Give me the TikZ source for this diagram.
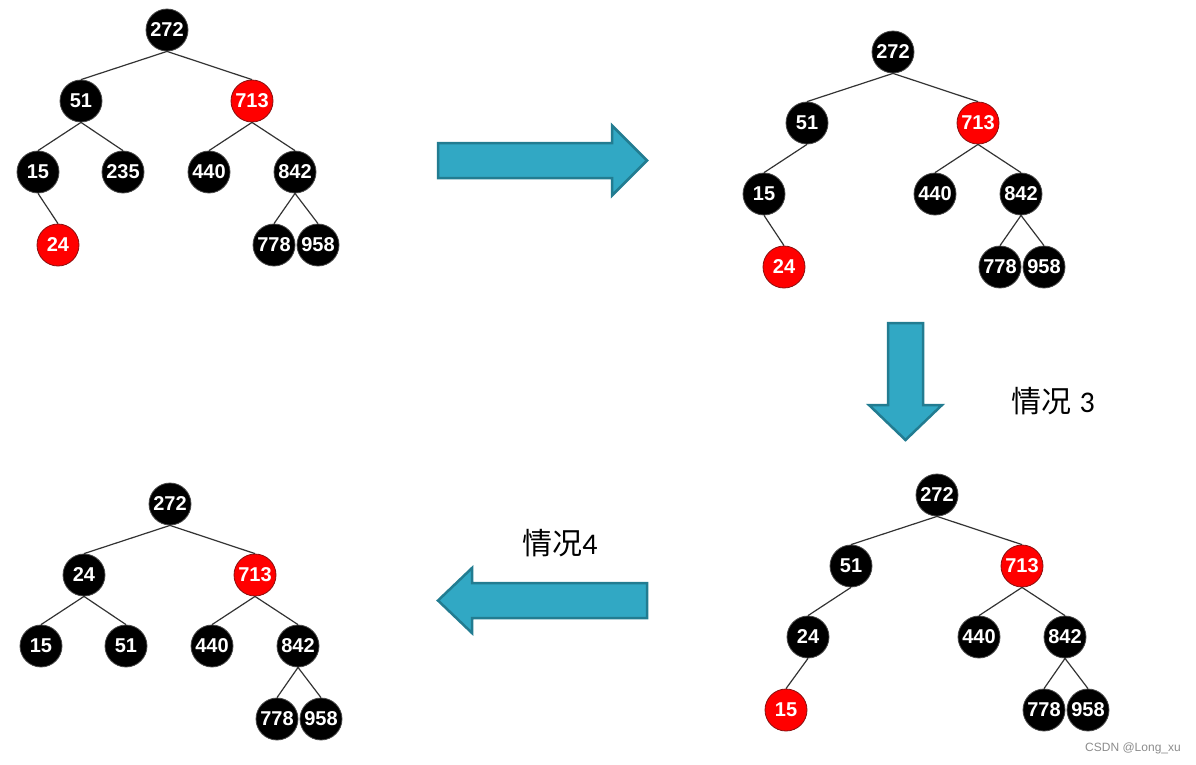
\documentclass[tikz,border=0pt]{standalone}
\usepackage{fontspec}
\setmainfont{Liberation Sans}
\newfontfamily\cjk{Noto Sans CJK SC}
\newfontfamily\calib{Carlito}
\usepackage{tikz}
\definecolor{rbred}{HTML}{FF0000}
\definecolor{reddark}{HTML}{8A1010}
\definecolor{nodeline}{HTML}{4A4A4A}
\definecolor{linkgray}{HTML}{333333}
\definecolor{arrowfill}{HTML}{31A8C4}
\definecolor{arrowline}{HTML}{227C91}
\definecolor{textmuted}{HTML}{8C8C8C}
\tikzset{
  rbnode/.style={circle, minimum size=42pt, inner sep=0pt, draw=nodeline,
                 line width=0.8pt, text=white,
                 font=\fontsize{20}{20}\selectfont\bfseries},
  blk/.style={rbnode, fill=black},
  rd/.style ={rbnode, fill=rbred, draw=reddark},
  link/.style={draw=linkgray, line width=1.2pt},
  bigarrow/.style={fill=arrowfill, draw=arrowline, line width=2.5pt,
                   line join=miter},
  case/.style={font=\fontsize{30}{30}\selectfont, text=black, inner sep=0pt},
  watermark/.style={font=\fontsize{12}{12}\selectfont, text=textmuted,
                    inner sep=0pt},
}
\begin{document}
\begin{tikzpicture}[x=1pt, y=-1pt]
  \useasboundingbox (0,0) rectangle (1196,764);

  % ── Tree 1: after insert of 24 ───────────────────────────────────────────
  \begin{scope}
    \node[blk] (a272) at (167,30)  {272};
    \node[blk] (a51)  at (81,101)  {51};
    \node[rd]  (a713) at (252,101) {713};
    \node[blk] (a15)  at (38,172)  {15};
    \node[blk] (a235) at (123,172) {235};
    \node[blk] (a440) at (209,172) {440};
    \node[blk] (a842) at (295,172) {842};
    \node[rd]  (a24)  at (58,245)  {24};
    \node[blk] (a778) at (274,245) {778};
    \node[blk] (a958) at (318,245) {958};
    \draw[link] (a272.south) -- (a51.north);
    \draw[link] (a272.south) -- (a713.north);
    \draw[link] (a51.south)  -- (a15.north);
    \draw[link] (a51.south)  -- (a235.north);
    \draw[link] (a713.south) -- (a440.north);
    \draw[link] (a713.south) -- (a842.north);
    \draw[link] (a15.south)  -- (a24.north);
    \draw[link] (a842.south) -- (a778.north);
    \draw[link] (a842.south) -- (a958.north);
  \end{scope}

  % ── Tree 2: 235 removed ──────────────────────────────────────────────────
  \begin{scope}[shift={(726,22)}]
    \node[blk] (b272) at (167,30)  {272};
    \node[blk] (b51)  at (81,101)  {51};
    \node[rd]  (b713) at (252,101) {713};
    \node[blk] (b15)  at (38,172)  {15};
    \node[blk] (b440) at (209,172) {440};
    \node[blk] (b842) at (295,172) {842};
    \node[rd]  (b24)  at (58,245)  {24};
    \node[blk] (b778) at (274,245) {778};
    \node[blk] (b958) at (318,245) {958};
    \draw[link] (b272.south) -- (b51.north);
    \draw[link] (b272.south) -- (b713.north);
    \draw[link] (b51.south)  -- (b15.north);
    \draw[link] (b713.south) -- (b440.north);
    \draw[link] (b713.south) -- (b842.north);
    \draw[link] (b15.south)  -- (b24.north);
    \draw[link] (b842.south) -- (b778.north);
    \draw[link] (b842.south) -- (b958.north);
  \end{scope}

  % ── Tree 3: after case 3 ─────────────────────────────────────────────────
  \begin{scope}[shift={(770,465)}]
    \node[blk] (c272) at (167,30)  {272};
    \node[blk] (c51)  at (81,101)  {51};
    \node[rd]  (c713) at (252,101) {713};
    \node[blk] (c24)  at (38,172)  {24};
    \node[blk] (c440) at (209,172) {440};
    \node[blk] (c842) at (295,172) {842};
    \node[rd]  (c15)  at (16,245)  {15};
    \node[blk] (c778) at (274,245) {778};
    \node[blk] (c958) at (318,245) {958};
    \draw[link] (c272.south) -- (c51.north);
    \draw[link] (c272.south) -- (c713.north);
    \draw[link] (c51.south)  -- (c24.north);
    \draw[link] (c713.south) -- (c440.north);
    \draw[link] (c713.south) -- (c842.north);
    \draw[link] (c24.south)  -- (c15.north);
    \draw[link] (c842.south) -- (c778.north);
    \draw[link] (c842.south) -- (c958.north);
  \end{scope}

  % ── Tree 4: after case 4 ─────────────────────────────────────────────────
  \begin{scope}[shift={(3,474)}]
    \node[blk] (d272) at (167,30)  {272};
    \node[blk] (d24)  at (81,101)  {24};
    \node[rd]  (d713) at (252,101) {713};
    \node[blk] (d15)  at (38,172)  {15};
    \node[blk] (d51)  at (123,172) {51};
    \node[blk] (d440) at (209,172) {440};
    \node[blk] (d842) at (295,172) {842};
    \node[blk] (d778) at (274,245) {778};
    \node[blk] (d958) at (318,245) {958};
    \draw[link] (d272.south) -- (d24.north);
    \draw[link] (d272.south) -- (d713.north);
    \draw[link] (d24.south)  -- (d15.north);
    \draw[link] (d24.south)  -- (d51.north);
    \draw[link] (d713.south) -- (d440.north);
    \draw[link] (d713.south) -- (d842.north);
    \draw[link] (d842.south) -- (d778.north);
    \draw[link] (d842.south) -- (d958.north);
  \end{scope}

  % ── Block arrows ─────────────────────────────────────────────────────────
  \coordinate (rtail) at (438,160.5);
  \coordinate (dtail) at (905.5,323);
  \coordinate (ltail) at (647,600.5);

  \draw[bigarrow] (rtail) ++(0,-17.5) -- ++(174,0) -- ++(0,-17.5)
    -- ++(35,35) -- ++(-35,35) -- ++(0,-17.5) -- ++(-174,0) -- cycle;
  \draw[bigarrow] (dtail) ++(-17.5,0) -- ++(0,82) -- ++(-19,0)
    -- ++(36.5,35) -- ++(36.5,-35) -- ++(-19,0) -- ++(0,-82) -- cycle;
  \draw[bigarrow] (ltail) ++(0,-17.5) -- ++(-175,0) -- ++(0,-15)
    -- ++(-34,32.5) -- ++(34,32.5) -- ++(0,-15) -- ++(175,0) -- cycle;

  % ── Labels ───────────────────────────────────────────────────────────────
  \node[case] (case3) at (1053,401) {{\cjk 情况} {\calib 3}};
  \node[case] (case4) at (560,543)  {{\cjk 情况}{\calib 4}};
  \node[watermark] (csdn) at (1133,748) {CSDN @Long\_xu};

\end{tikzpicture}
\end{document}
